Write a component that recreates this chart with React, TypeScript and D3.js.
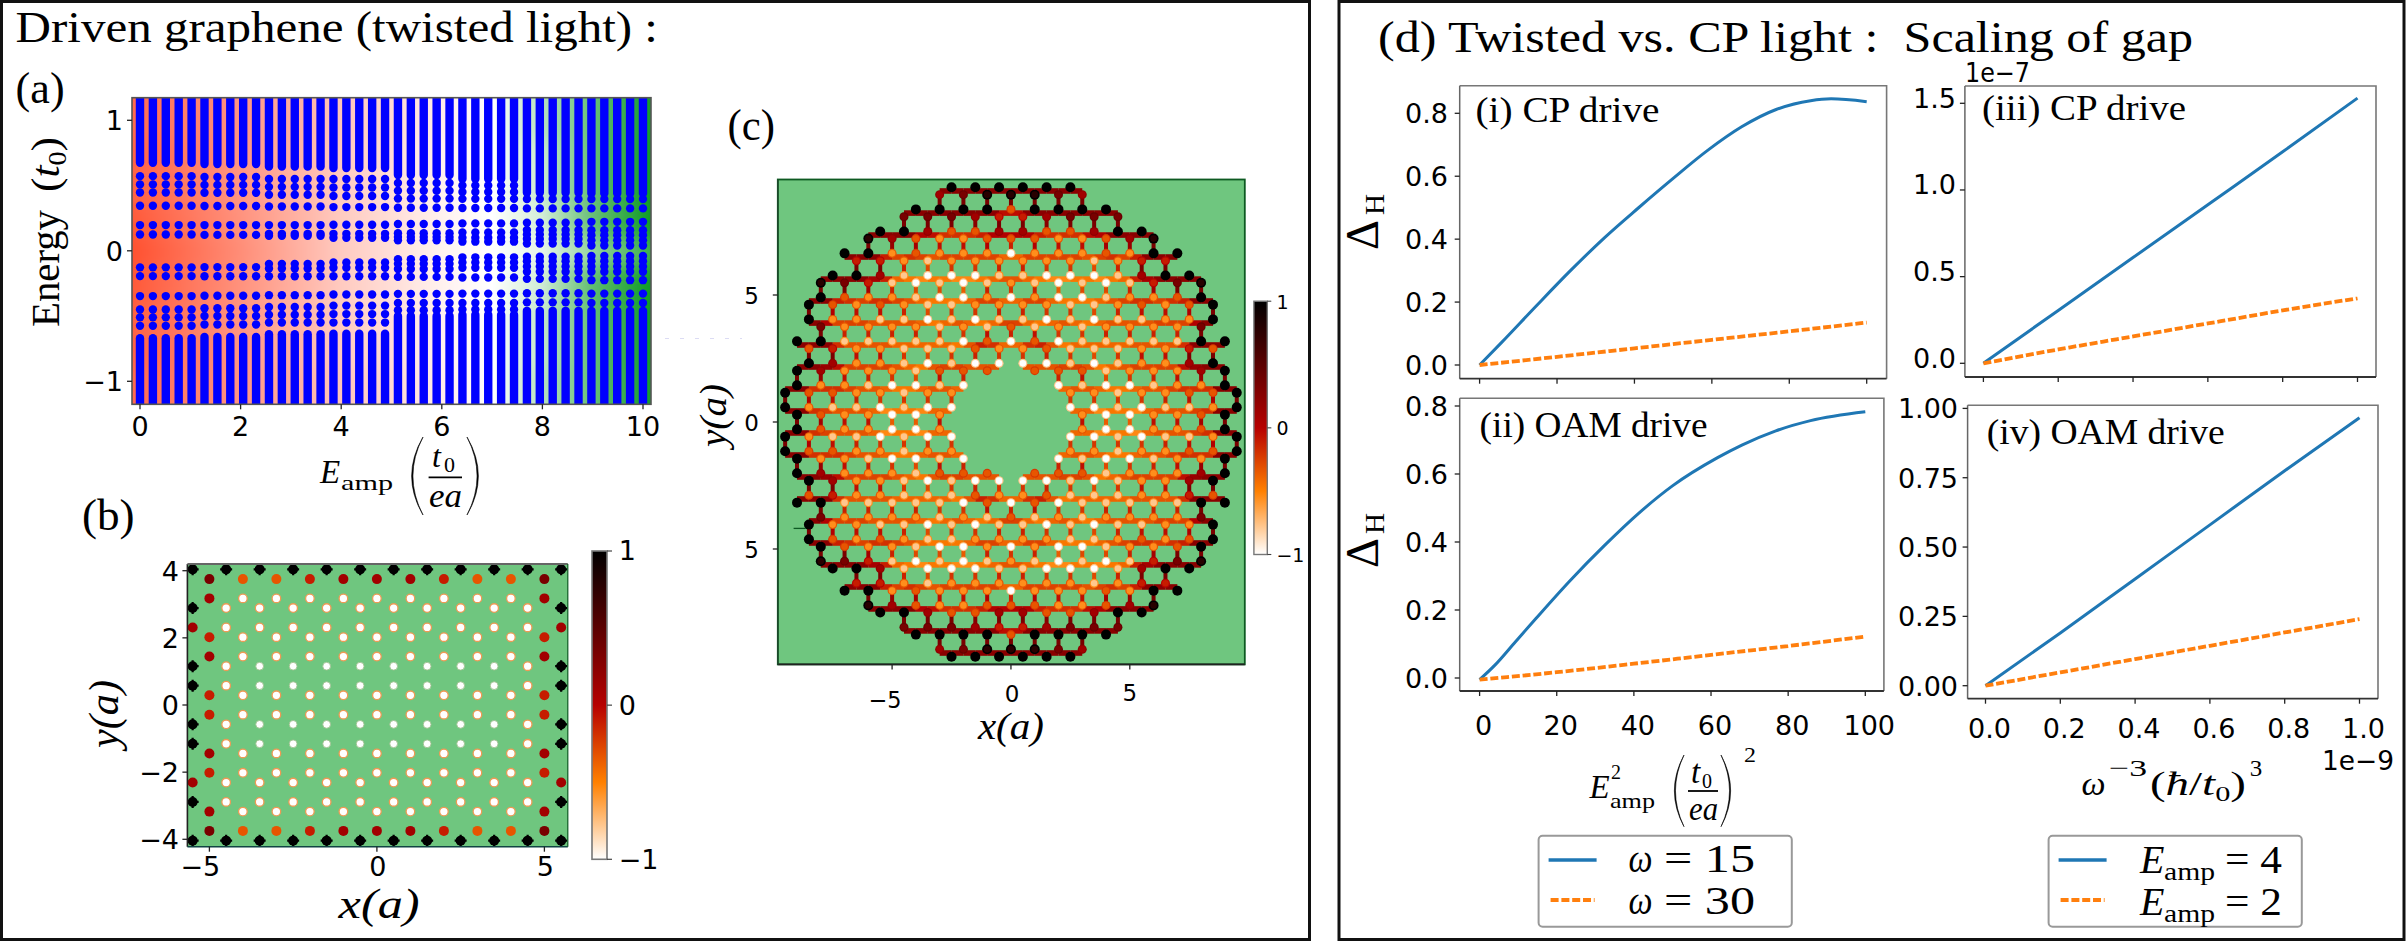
import React from "react";
import * as d3 from "d3";

const SERIF = "'Liberation Serif', serif";
const SANS = "'DejaVu Sans', sans-serif";
const GREEN = "#6fc67f";

// ---------- panel (a) : spectrum versus field amplitude ----------
const aColumnCount = 40;
const aGroupSize = 5;
const aUpperLevels = [
  [0.125, 0.197, 0.345, 0.447, 0.509, 0.572],
  [0.122, 0.197, 0.343, 0.445, 0.505, 0.565],
  [0.115, 0.13, 0.197, 0.34, 0.43, 0.49, 0.55],
  [0.1, 0.13, 0.2, 0.335, 0.42, 0.485, 0.55],
  [0.08, 0.105, 0.135, 0.205, 0.33, 0.4, 0.46, 0.52],
  [0.07, 0.1, 0.14, 0.21, 0.328, 0.398, 0.45, 0.5],
  [0.055, 0.09, 0.125, 0.16, 0.215, 0.325, 0.396],
  [0.04, 0.08, 0.12, 0.158, 0.222, 0.325, 0.396],
];
const aLowerLevels = [
  [-0.127, -0.194, -0.347, -0.45, -0.51, -0.575],
  [-0.125, -0.195, -0.345, -0.44, -0.5, -0.565],
  [-0.1, -0.135, -0.195, -0.34, -0.43, -0.49, -0.55],
  [-0.09, -0.13, -0.195, -0.335, -0.42, -0.485, -0.55],
  [-0.065, -0.1, -0.14, -0.2, -0.33, -0.4, -0.455],
  [-0.05, -0.09, -0.13, -0.205, -0.328, -0.4, -0.45],
  [-0.045, -0.08, -0.12, -0.16, -0.215, -0.325, -0.395],
  [-0.04, -0.08, -0.12, -0.16, -0.225, -0.328, -0.4],
];
const aUpperBandStart = [0.675, 0.665, 0.645, 0.635, 0.58, 0.55, 0.445, 0.44];
const aLowerBandStart = [-0.67, -0.66, -0.64, -0.635, -0.5, -0.49, -0.46, -0.46];
const aHeatEnergy = [1.2, 0.5, 0.2, 0, -0.25, -0.6, -1.2];
const aHeatX = [-0.2, 2, 4, 6, 7, 8, 9, 10.2];
const aHeatRows = [
  [-0.85, -0.6, -0.33, -0.1, 0, 0.3, 0.62, 0.98],
  [-0.9, -0.6, -0.3, -0.08, 0, 0.22, 0.62, 1],
  [-0.95, -0.62, -0.3, -0.08, 0, 0.18, 0.62, 1],
  [-1, -0.65, -0.3, -0.07, 0, 0.1, 0.42, 0.8],
  [-0.95, -0.62, -0.3, -0.08, 0, 0.2, 0.65, 1],
  [-0.9, -0.6, -0.3, -0.08, 0, 0.25, 0.62, 1],
  [-0.85, -0.6, -0.33, -0.1, 0, 0.3, 0.62, 0.98],
];

// ---------- panel (b) : rectangular flake, quarter of the lattice ----------
const bRowY = [4.04, 3.75, 3.175, 2.887, 2.31, 2.02, 1.443, 1.155, 0.577, 0.289];
const bRowFirstX = [0.5, 0, 0, 0.5, 0.5, 0, 0, 0.5, 0.5, 0];
const bRowDigits = [
  "999999", "554336", "111115", "111119", "111115",
  "111114", "111115", "000019", "000019", "111114",
];

// ---------- panel (c) : circular flake with a hole, quarter of the lattice ----------
const cRowY = [9.24, 8.95, 8.37, 8.08, 7.5, 7.22, 6.64, 6.35, 5.77, 5.48, 4.907, 4.62, 4.04, 3.75, 3.175, 2.887, 2.31, 2.02, 1.443, 1.155, 0.577, 0.289];
const cRowFirstX = [0.5, 0, 0, 0.5, 0.5, 0, 0, 0.5, 0.5, 0, 0, 0.5, 0.5, 0, 0, 0.5, 0.5, 1, 2, 2.5, 2.5, 3];
const cRowDigits = [
  "999", "8865", "39999", "45666", "533599", "3322358", "02223299", "2221244",
  "10001599", "210101468", "020012239", "221123239", "101011229", "312122226",
  "0301111199", "231112243", "001012259", "333122259", "01001229", "22122339",
  "00101129", "2002239",
];

// ---------- panel (d) : gap scaling ----------
const eSquared = [0, 5.7, 14.5, 23.4, 32.3, 41, 50, 58.9, 67.7, 76.6, 85.5, 90.8, 100];
const gapCpOmega15 = [0, 0.072, 0.186, 0.299, 0.405, 0.499, 0.593, 0.682, 0.757, 0.812, 0.84, 0.846, 0.837];
const eSquaredOam = [0, 3.9, 9.25, 14.6, 23.5, 32.4, 41.3, 50, 61.7, 68, 76.8, 85.8, 100];
const gapOamOmega15 = [-0.005, 0.037, 0.106, 0.175, 0.287, 0.39, 0.485, 0.565, 0.648, 0.685, 0.727, 0.757, 0.783];
const eSquaredCoarse = [0, 20, 40, 60, 80, 100];
const gapCpOmega30 = [0, 0.026, 0.053, 0.08, 0.107, 0.135];
const gapOamOmega30 = [-0.005, 0.017, 0.042, 0.068, 0.094, 0.122];
const omegaInv3 = [0, 0.2, 0.4, 0.6, 0.8, 1];
const gapCpE4 = [0, 0.305, 0.61, 0.915, 1.22, 1.53];
const gapCpE2 = [0, 0.08, 0.155, 0.23, 0.305, 0.375];
const gapOamE4 = [0, 0.19, 0.385, 0.58, 0.775, 0.966];
const gapOamE2 = [0, 0.048, 0.096, 0.144, 0.192, 0.24];

const BLUE = "#1f77b4";
const ORANGE = "#ff7f0e";

// colormaps
const heatStops = ["#ffffff", "#ff8000", "#b60000", "#5b0000", "#000000"];
const heatCmap = d3.scaleLinear<string>().domain([-1, -0.5, 0, 0.5, 1]).range(heatStops).clamp(true);
const digitValue = (d: number) => -1 + (2 * d) / 9;
const divCmap = d3.scaleLinear<string>().domain([-1, 0, 1]).range(["#ff4f2e", "#ffffff", "#0b9a22"]).clamp(true);

type Site = { x: number; y: number; d: number };
function expandSites(ys: number[], first: number[], digits: string[]): Site[] {
  const out: Site[] = [];
  ys.forEach((y, r) => {
    digits[r].split("").forEach((ch, k) => {
      const x = first[r] + k;
      const d = +ch;
      for (const sy of [1, -1]) {
        out.push({ x, y: sy * y, d });
        if (x !== 0) out.push({ x: -x, y: sy * y, d });
      }
    });
  });
  return out;
}
const cSites = expandSites(cRowY, cRowFirstX, cRowDigits);
const cBonds: { a: Site; b: Site }[] = [];
for (let i = 0; i < cSites.length; i++) {
  for (let j = i + 1; j < cSites.length; j++) {
    const a = cSites[i], b = cSites[j];
    if (Math.hypot(a.x - b.x, a.y - b.y) < 0.62) cBonds.push({ a, b });
  }
}
const bSites = expandSites(bRowY, bRowFirstX, bRowDigits);

const T = ({ x, y, w, s, f = SERIF, a = "start", i = false, rot = 0, fill = "#000", children }: any) => (
  <text
    x={x}
    y={y}
    fontSize={s}
    fontFamily={f}
    textAnchor={a}
    fontStyle={i ? "italic" : "normal"}
    fill={fill}
    textLength={w}
    lengthAdjust={w ? "spacingAndGlyphs" : undefined}
    transform={rot ? `rotate(${rot} ${x} ${y})` : undefined}
  >
    {children}
  </text>
);

const num = (v: number, dec: number) => {
  const s = Math.abs(v).toFixed(dec);
  return (v < 0 ? "\u2212" : "") + s;
};

function XTicks({ sx, y, vals, len = 5, color = "#222" }: any) {
  return <g>{vals.map((v: number) => <line key={v} x1={sx(v)} x2={sx(v)} y1={y} y2={y + len} stroke={color} strokeWidth={1.3} />)}</g>;
}
function YTicks({ sy, x, vals, len = 5, color = "#222" }: any) {
  return <g>{vals.map((v: number) => <line key={v} x1={x - len} x2={x} y1={sy(v)} y2={sy(v)} stroke={color} strokeWidth={1.3} />)}</g>;
}
const Frame = ({ l, r, t, b, stroke = "#3a3a3a", sw = 1.6 }: any) => (
  <rect x={l} y={t} width={r - l} height={b - t} fill="none" stroke={stroke} strokeWidth={sw} />
);

// large math delimiter: tip at the outer edge, drawn as a thin crescent
function Delim({ x0, x1, y0, y1 }: any) {
  const ym = (y0 + y1) / 2;
  const ctrl = x0 + (x0 - x1) * 0.75;
  const thick = (x1 - x0) * 0.2;
  return <path d={`M${x1} ${y0}Q${ctrl} ${ym} ${x1} ${y1}Q${ctrl + thick} ${ym} ${x1} ${y0}Z`} fill="#000" stroke="#000" strokeWidth={0.6} />;
}

function PanelA() {
  const sx = d3.scaleLinear().domain([0, 10]).range([140, 643]);
  const sy = d3.scaleLinear().domain([-1, 1]).range([381.3, 120.3]);
  const L = 132, R = 651, TOP = 97.7, B = 404.3;
  const columns = d3.range(aColumnCount).map((i) => (i * 10) / (aColumnCount - 1));
  const bounds = aHeatEnergy.map((e, i) => (i === 0 ? 1.4 : (e + aHeatEnergy[i - 1]) / 2));
  return (
    <g>
      <defs>
        <clipPath id="clipA"><rect x={L} y={TOP} width={R - L} height={B - TOP} /></clipPath>
        <filter id="blurA" x="-5%" y="-30%" width="110%" height="160%" colorInterpolationFilters="sRGB">
          <feGaussianBlur stdDeviation="0 9" />
        </filter>
        {aHeatRows.map((row, i) => (
          <linearGradient key={i} id={`heat${i}`} gradientUnits="userSpaceOnUse" x1={sx(aHeatX[0])} x2={sx(aHeatX[aHeatX.length - 1])} y1="0" y2="0">
            {row.map((v, k) => (
              <stop key={k} offset={(aHeatX[k] - aHeatX[0]) / (aHeatX[aHeatX.length - 1] - aHeatX[0])} stopColor={divCmap(v)} />
            ))}
          </linearGradient>
        ))}
      </defs>
      <g clipPath="url(#clipA)">
        <g filter="url(#blurA)">
          {aHeatRows.map((_, i) => {
            const top = sy(bounds[i]);
            const bot = sy(i === aHeatRows.length - 1 ? -1.4 : (aHeatEnergy[i] + aHeatEnergy[i + 1]) / 2);
            return <rect key={i} x={L - 5} y={top} width={R - L + 10} height={bot - top + 1} fill={`url(#heat${i})`} />;
          })}
        </g>
        {columns.map((xv, c) => {
          const g = Math.min(Math.floor(c / aGroupSize), aUpperLevels.length - 1);
          return (
            <g key={c}>
              <line x1={sx(xv)} x2={sx(xv)} y1={sy(aUpperBandStart[g])} y2={sy(1.3)} stroke="#0000ff" strokeWidth={8.4} strokeLinecap="round" />
              <line x1={sx(xv)} x2={sx(xv)} y1={sy(aLowerBandStart[g])} y2={sy(-1.3)} stroke="#0000ff" strokeWidth={8.4} strokeLinecap="round" />
              {aUpperLevels[g].concat(aLowerLevels[g]).map((e, k) => (
                <circle key={k} cx={sx(xv)} cy={sy(e)} r={4.2} fill="#0000ff" />
              ))}
            </g>
          );
        })}
      </g>
      <Frame l={L} r={R} t={TOP} b={B} stroke="#555" />
      <XTicks sx={sx} y={B} vals={[0, 2, 4, 6, 8, 10]} />
      <YTicks sy={sy} x={L} vals={[-1, 0, 1]} />
      {[0, 2, 4, 6, 8, 10].map((v) => <T key={v} x={sx(v)} y={436} s={27} f={SANS} a="middle">{v}</T>)}
      {[-1, 0, 1].map((v) => <T key={v} x={123} y={sy(v) + 10} s={27} f={SANS} a="end">{num(v, 0)}</T>)}
      <T x={59} y={327} w={117} s={40} rot={-90}>Energy</T>
      <text x={59} y={192} fontSize={40} fontFamily={SERIF} transform="rotate(-90 59 192)" textLength={55} lengthAdjust="spacingAndGlyphs">
        (<tspan fontStyle="italic">t</tspan><tspan fontSize={26} dy={7}>0</tspan><tspan dy={-7}>)</tspan>
      </text>
      <T x={320} y={483} s={33} i>E</T>
      <T x={341} y={490} w={52} s={22}>amp</T>
      <T x={432} y={467} s={32} i>t</T>
      <T x={444} y={472} s={22}>0</T>
      <line x1={428.6} x2={462} y1={477.3} y2={477.3} stroke="#000" strokeWidth={1.8} />
      <T x={429} y={506.7} w={33} s={33} i>ea</T>
      <Delim x0={410} x1={423} y0={437} y1={515} />
      <Delim x0={480} x1={467} y0={437} y1={515} />
      <line x1={665} x2={742} y1={338.5} y2={338.5} stroke="#dcdcf4" strokeWidth={1} strokeDasharray="4 11" />
    </g>
  );
}

function PanelB() {
  const sx = d3.scaleLinear().domain([-5, 5]).range([209.4, 544.4]);
  const sy = d3.scaleLinear().domain([-4, 4]).range([839.3, 570.7]);
  const L = 187.4, R = 567.8, TOP = 564, B = 846.7;
  const cbL = 592, cbR = 607, cbT = 551, cbB = 859.3;
  return (
    <g>
      <defs>
        <clipPath id="clipB"><rect x={L} y={TOP} width={R - L} height={B - TOP} /></clipPath>
        <linearGradient id="cbar" x1="0" x2="0" y1="1" y2="0">
          {heatStops.map((c, i) => <stop key={i} offset={i / 4} stopColor={c} />)}
        </linearGradient>
      </defs>
      <rect x={L} y={TOP} width={R - L} height={B - TOP} fill={GREEN} />
      <g clipPath="url(#clipB)">
        {bSites.map((p, i) => (
          <g key={i}>
            {p.d === 9 && (
              <path
                d={`M${sx(p.x)} ${sy(p.y) - 6}V${sy(p.y) + 6}M${sx(p.x) - 6} ${sy(p.y)}H${sx(p.x) + 6}`}
                stroke="#000"
                strokeWidth={2.2}
              />
            )}
            <circle
              cx={sx(p.x)}
              cy={sy(p.y)}
              r={p.d >= 3 ? 5 : p.d === 1 ? 4.3 : 3.9}
              fill={heatCmap(digitValue(p.d === 1 ? 0 : p.d))}
              stroke={p.d === 1 ? "#ee9a55" : p.d === 0 ? "#9cbf8d" : "none"}
              strokeWidth={p.d === 1 ? 1.3 : p.d === 0 ? 0.9 : 0}
            />
          </g>
        ))}
      </g>
      <path d={`M${L} ${B}V${TOP}`} stroke="#222" strokeWidth={1.6} fill="none" />
      <path d={`M${L} ${B}H${R}`} stroke="#144" strokeWidth={1.4} fill="none" />
      <path d={`M${L} ${TOP}H${R}`} stroke="#666" strokeWidth={2} fill="none" />
      <path d={`M${R} ${TOP}V${B}`} stroke="#0d5a22" strokeWidth={1.2} fill="none" />
      <XTicks sx={sx} y={B} vals={[-5, 0, 5]} />
      <YTicks sy={sy} x={L} vals={[-4, -2, 0, 2, 4]} />
      {[-5, 0, 5].map((v) => <T key={v} x={sx(v) + (v < 0 ? -9 : 1)} y={876} s={27} f={SANS} a="middle">{num(v, 0)}</T>)}
      {[-4, -2, 0, 2, 4].map((v) => <T key={v} x={179} y={sy(v) + 10} s={27} f={SANS} a="end">{num(v, 0)}</T>)}
      <rect x={cbL} y={cbT} width={cbR - cbL} height={cbB - cbT} fill="url(#cbar)" stroke="#777" strokeWidth={1.6} />
      {[cbT, (cbT + cbB) / 2 + 0, cbB].map((y, i) => <line key={i} x1={cbR} x2={cbR + 5} y1={y} y2={y} stroke="#444" strokeWidth={1.2} />)}
      <T x={618.7} y={560} s={27} f={SANS}>1</T>
      <T x={618.7} y={715} s={27} f={SANS}>0</T>
      <T x={618.7} y={869} s={27} f={SANS}>{"\u22121"}</T>
      <T x={338.6} y={918} w={81} s={43} i>x(a)</T>
      <T x={118} y={748} w={68} s={43} i rot={-90}>y(a)</T>
      <T x={82} y={530} w={52.6} s={44}>(b)</T>
    </g>
  );
}

function PanelC() {
  const sx = d3.scaleLinear().domain([-5, 5]).range([892.1, 1129.8]);
  const sy = d3.scaleLinear().domain([-5, 5]).range([549, 295]);
  const L = 777.8, R = 1244.8, TOP = 179.5, B = 664.4;
  const cbL = 1253.9, cbR = 1267.3, cbT = 301.2, cbB = 554.5;
  const bondDigit = (m: number) => Math.min(6, m + 2.9 * (1 - m / 9));
  const zigDigit = (m: number) => Math.min(5.6, 2.1 + m * 0.62);
  const isZig = (a: Site, b: Site) => Math.abs(a.y - b.y) < 0.4;
  return (
    <g>
      <defs>
        <clipPath id="clipC"><rect x={L} y={TOP} width={R - L} height={B - TOP} /></clipPath>
        <filter id="softC" x="-5%" y="-5%" width="110%" height="110%" colorInterpolationFilters="sRGB">
          <feGaussianBlur stdDeviation="0.5" />
        </filter>
      </defs>
      <rect x={L} y={TOP} width={R - L} height={B - TOP} fill={GREEN} />
      <g clipPath="url(#clipC)">
        <g filter="url(#softC)">
          {cBonds.map(({ a, b }, i) => {
            const m = (a.d + b.d) / 2;
            const yMid = sy((a.y + b.y) / 2);
            return isZig(a, b) ? (
              <line key={i} x1={sx(a.x)} y1={yMid} x2={sx(b.x)} y2={yMid} stroke={heatCmap(digitValue(zigDigit(m)))} strokeWidth={5.6} />
            ) : (
              <line key={i} x1={sx(a.x)} y1={sy(a.y)} x2={sx(b.x)} y2={sy(b.y)} stroke={heatCmap(digitValue(bondDigit(m)))} strokeWidth={4} />
            );
          })}
          {cSites.map((p, i) => (
            <circle key={`h${i}`} cx={sx(p.x)} cy={sy(p.y)} r={p.d >= 8 ? 5 : 4.5} fill={heatCmap(digitValue(p.d >= 8 ? 9 : p.d + (p.d < 3 ? 1 : 0.5)))} />
          ))}
          {cSites.map((p, i) => (
            <circle key={`c${i}`} cx={sx(p.x)} cy={sy(p.y)} r={3.3} fill={heatCmap(digitValue(p.d))} />
          ))}
        </g>
      </g>
      <rect x={L} y={TOP} width={R - L} height={B - TOP} fill="none" stroke="#0d5a22" strokeWidth={1.8} />
      <path d={`M${L} ${B}H${R}`} stroke="#222" strokeWidth={1.6} fill="none" />
      <path d={`M${L} ${TOP}V${B}`} stroke="#1a4a2a" strokeWidth={1.6} fill="none" />
      <XTicks sx={sx} y={B} vals={[-5, 0, 5]} />
      <YTicks sy={sy} x={L} vals={[-5, 0, 5]} />
      <T x={sx(-5) - 7} y={708} w={33} s={23} f={SANS} a="middle">{"\u22125"}</T>
      <T x={sx(0) + 1} y={702} s={23} f={SANS} a="middle">0</T>
      <T x={sx(5)} y={701} s={23} f={SANS} a="middle">5</T>
      {[5, 0, -5].map((v) => <T key={v} x={759} y={sy(v) + 8.5} s={23} f={SANS} a="end">{Math.abs(v)}</T>)}
      <line x1={793.6} x2={805.5} y1={528.4} y2={528.4} stroke="#0d5a22" strokeWidth={1.3} />
      <rect x={cbL} y={cbT} width={cbR - cbL} height={cbB - cbT} fill="url(#cbar)" stroke="#777" strokeWidth={1.4} />
      {[cbT, (cbT + cbB) / 2, cbB].map((y, i) => <line key={i} x1={cbR} x2={cbR + 4} y1={y} y2={y} stroke="#444" strokeWidth={1.1} />)}
      <T x={1276.4} y={309} s={19} f={SANS}>1</T>
      <T x={1276.4} y={435} s={19} f={SANS}>0</T>
      <T x={1276.4} y={562} s={19} f={SANS}>{"\u22121"}</T>
      <T x={977.9} y={739} w={66} s={38} i>x(a)</T>
      <T x={726} y={447} w={63} s={38} i rot={-90}>y(a)</T>
      <T x={727.6} y={140} w={47.4} s={44}>(c)</T>
    </g>
  );
}

function LinePanel({ xr, yr, dx, dy, blue, orange, bx, ox, frame, xt, yt, ydec, yLabelX, yLabelShift = 0, xLabels, label }: any) {
  const sx = d3.scaleLinear().domain(dx).range(xr);
  const sy = d3.scaleLinear().domain(dy).range(yr);
  const line = d3.line<[number, number]>().x((d) => sx(d[0])).y((d) => sy(d[1])).curve(d3.curveMonotoneX);
  const zip = (a: number[], b: number[]) => a.map((v, i) => [v, b[i]] as [number, number]);
  return (
    <g>
      <path d={line(zip(bx, blue)) as string} fill="none" stroke={BLUE} strokeWidth={3} />
      <path d={line(zip(ox, orange)) as string} fill="none" stroke={ORANGE} strokeWidth={3.8} strokeDasharray="8 2.8" />
      <path d={`M${frame.l} ${frame.t}H${frame.r}V${frame.b}`} fill="none" stroke="#777" strokeWidth={1.6} />
      <path d={`M${frame.l} ${frame.t}V${frame.b}`} fill="none" stroke="#666" strokeWidth={1.5} />
      <path d={`M${frame.l} ${frame.b}H${frame.r}`} fill="none" stroke="#333" strokeWidth={1.8} />
      <XTicks sx={sx} y={frame.b} vals={xt} />
      <YTicks sy={sy} x={frame.l} vals={yt} />
      {yt.map((v: number) => (
        <T key={v} x={yLabelX} y={sy(v) + 10 + yLabelShift} s={27} f={SANS} a="end">{v.toFixed(ydec)}</T>
      ))}
      {xLabels && xt.map((v: number) => (
        <T key={v} x={sx(v) + 4} y={xLabels.y} s={27} f={SANS} a="middle">{xLabels.fmt(v)}</T>
      ))}
      <T x={label.x} y={label.y} w={label.w} s={35}>{label.t}</T>
    </g>
  );
}

function PanelD() {
  return (
    <g>
      <T x={1378} y={51.7} w={815} s={44} >{"(d) Twisted vs. CP light :\u00a0\u00a0Scaling of gap"}</T>
      <LinePanel xr={[1479.6, 1866.7]} yr={[365, 113.3]} dx={[0, 100]} dy={[0, 0.8]}
        blue={gapCpOmega15} orange={gapCpOmega30} bx={eSquared} ox={eSquaredCoarse}
        frame={{ l: 1459.7, r: 1886.6, t: 85.7, b: 378.7 }}
        xt={[0, 20, 40, 60, 80, 100]} yt={[0, 0.2, 0.4, 0.6, 0.8]} ydec={1} yLabelX={1448}
        label={{ x: 1475.5, y: 121.7, w: 184, t: "(i) CP drive" }} />
      <LinePanel xr={[1983.4, 2357.5]} yr={[363.3, 103.3]} dx={[0, 1]} dy={[0, 1.5]}
        blue={gapCpE4} orange={gapCpE2} bx={omegaInv3} ox={omegaInv3}
        frame={{ l: 1964.9, r: 2376, t: 86, b: 377 }}
        xt={[0, 0.2, 0.4, 0.6, 0.8, 1]} yt={[0, 0.5, 1, 1.5]} ydec={1} yLabelX={1956} yLabelShift={-5.5}
        label={{ x: 1982, y: 120, w: 204, t: "(iii) CP drive" }} />
      <T x={1965} y={82} w={65} s={27} f={SANS}>{"1e\u22127"}</T>
      <LinePanel xr={[1479.6, 1865.3]} yr={[678, 406]} dx={[0, 100]} dy={[0, 0.8]}
        blue={gapOamOmega15} orange={gapOamOmega30} bx={eSquaredOam} ox={eSquaredCoarse}
        frame={{ l: 1459.7, r: 1883.9, t: 398.3, b: 691 }}
        xt={[0, 20, 40, 60, 80, 100]} yt={[0, 0.2, 0.4, 0.6, 0.8]} ydec={1} yLabelX={1448}
        xLabels={{ y: 735, fmt: (v: number) => String(v) }}
        label={{ x: 1479.6, y: 437, w: 228, t: "(ii) OAM drive" }} />
      <LinePanel xr={[1985.5, 2359.5]} yr={[685.7, 408.4]} dx={[0, 1]} dy={[0, 1]}
        blue={gapOamE4} orange={gapOamE2} bx={omegaInv3} ox={omegaInv3}
        frame={{ l: 1967.6, r: 2378, t: 405.3, b: 698.7 }}
        xt={[0, 0.2, 0.4, 0.6, 0.8, 1]} yt={[0, 0.25, 0.5, 0.75, 1]} ydec={2} yLabelX={1958}
        xLabels={{ y: 738, fmt: (v: number) => v.toFixed(1) }}
        label={{ x: 1986.8, y: 444, w: 238, t: "(iv) OAM drive" }} />
      <T x={2322} y={770} w={72} s={27} f={SANS}>{"1e\u22129"}</T>
      {/* y labels */}
      {[{ d: 250, h: 215 }, { d: 568, h: 534 }].map((o, i) => (
        <g key={i}>
          <T x={1378} y={o.d} w={30} s={46} rot={-90}>{"\u0394"}</T>
          <T x={1384} y={o.h} w={21} s={28} rot={-90}>H</T>
        </g>
      ))}
      {/* x label of the left column */}
      <T x={1589.4} y={798} s={33} i>E</T>
      <T x={1611} y={779} s={20}>2</T>
      <T x={1610} y={808} w={45} s={22}>amp</T>
      <Delim x0={1673} x1={1684} y0={755} y1={826.7} />
      <T x={1691} y={783} s={33} i>t</T>
      <T x={1702} y={788} s={20}>0</T>
      <line x1={1688} x2={1718} y1={791} y2={791} stroke="#000" strokeWidth={1.8} />
      <T x={1689} y={820} w={29} s={33} i>ea</T>
      <Delim x0={1732} x1={1721} y0={755} y1={826.7} />
      <T x={1744} y={761.6} w={12} s={22}>2</T>
      {/* x label of the right column */}
      <T x={2081.5} y={795} w={24} s={34} i>{"\u03c9"}</T>
      <T x={2109} y={776} w={38} s={24}>{"\u22123"}</T>
      <text x={2150} y={795} fontSize={34} fontFamily={SERIF} textLength={96} lengthAdjust="spacingAndGlyphs">
        (<tspan fontStyle="italic">{"\u0127"}</tspan>/<tspan fontStyle="italic">t</tspan><tspan fontSize={22} dy={6}>0</tspan><tspan dy={-6}>)</tspan>
      </text>
      <T x={2249.7} y={776} w={12.5} s={24}>3</T>
      {/* legends */}
      {[1538.6, 2048.6].map((x) => (
        <g key={x}>
          <rect x={x} y={835.7} width={253.2} height={91} rx={4} fill="#fff" stroke="#999" strokeWidth={2} />
          <line x1={x + 10} x2={x + 58} y1={860} y2={860} stroke={BLUE} strokeWidth={3.4} />
          <line x1={x + 12} x2={x + 56} y1={900} y2={900} stroke={ORANGE} strokeWidth={3.8} strokeDasharray="8 2.8" />
        </g>
      ))}
      <T x={1628.6} y={871.7} s={40} w={24} i>{"\u03c9"}</T>
      <T x={1664} y={871.7} w={91} s={40}>{"= 15"}</T>
      <T x={1628.6} y={914} s={40} w={24} i>{"\u03c9"}</T>
      <T x={1664} y={914} w={91} s={40}>{"= 30"}</T>
      <T x={2140} y={873} s={40} i>E</T>
      <T x={2164} y={880} w={51} s={26}>amp</T>
      <T x={2225} y={873} w={57} s={40}>{"= 4"}</T>
      <T x={2140} y={915} s={40} i>E</T>
      <T x={2164} y={922} w={51} s={26}>amp</T>
      <T x={2225} y={915} w={57} s={40}>{"= 2"}</T>
    </g>
  );
}

export default function App() {
  return (
    <svg
      width={2406}
      height={942}
      viewBox="0 0 2406 942"
      style={{ position: "absolute", left: 0, top: 0, display: "block", background: "#fff" }}
    >
      <rect x={1.5} y={1.5} width={1308} height={938} fill="#fff" stroke="#111" strokeWidth={3} />
      <rect x={1339} y={1.5} width={1065} height={938} fill="#fff" stroke="#111" strokeWidth={3} />
      <T x={15.6} y={41.7} w={642.4} s={44}>Driven graphene (twisted light) :</T>
      <T x={15.6} y={103} w={49} s={44}>(a)</T>
      <PanelA />
      <PanelB />
      <PanelC />
      <PanelD />
    </svg>
  );
}
